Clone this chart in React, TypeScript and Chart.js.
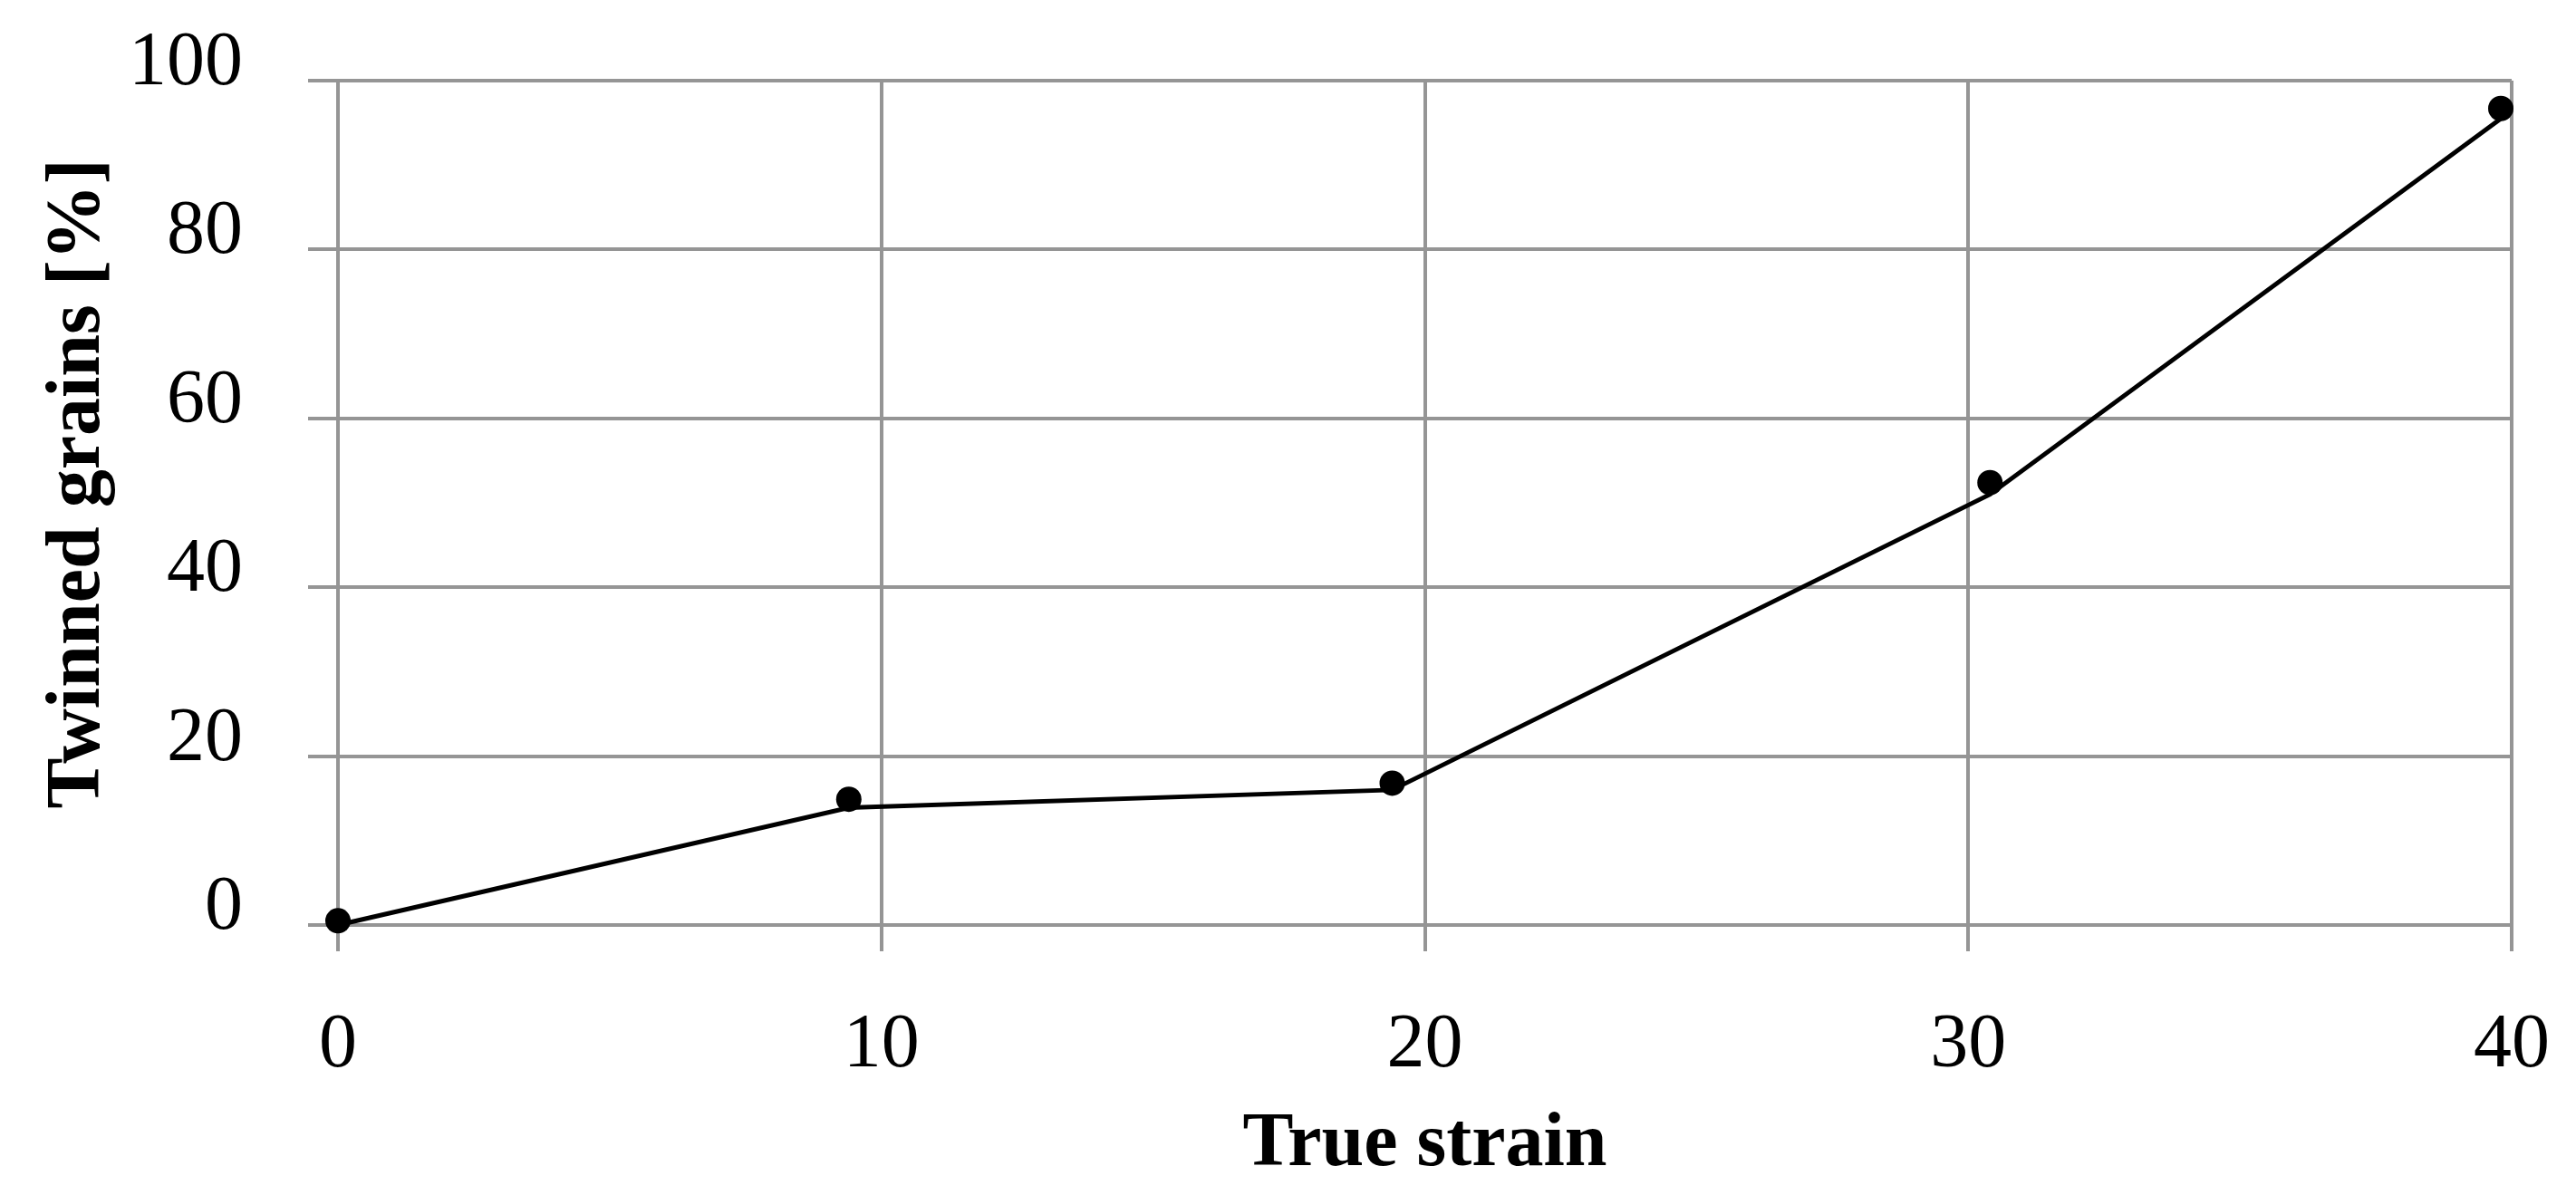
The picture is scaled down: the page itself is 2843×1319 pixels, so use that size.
import React, { useEffect, useRef } from "react";
import { Chart, registerables } from "chart.js";

Chart.register(...registerables);

// ---- data ----
const xTicks = [0, 10, 20, 30, 40];
const yTicks = [0, 20, 40, 60, 80, 100];

// connecting line (drawn slightly below the markers in the reference)
const lineStrain = [0, 9.4, 19.4, 30.4, 39.8];
const lineTwinned = [0, 13.9, 16.0, 51.0, 95.5];

// measured points (markers)
const markerStrain = [0, 9.4, 19.4, 30.4, 39.8];
const markerTwinned = [0.5, 14.9, 16.8, 52.4, 96.7];

const xTitle = "True strain";
const yTitle = "\u2002Twinned grains [%]";

const W = 2843;
const H = 1319;
const GRID = "#959595";
const FONT = "'Liberation Serif', 'Times New Roman', serif";

export default function App() {
  const ref = useRef<HTMLCanvasElement | null>(null);

  useEffect(() => {
    if (!ref.current) return;
    const chart = new Chart(ref.current, {
      type: "scatter",
      data: {
        datasets: [
          {
            label: "line",
            data: lineStrain.map((x, i) => ({ x, y: lineTwinned[i] })),
            showLine: true,
            borderColor: "#000",
            backgroundColor: "#000",
            borderWidth: 5,
            pointRadius: 0,
            tension: 0,
            clip: false as any,
          },
          {
            label: "points",
            data: markerStrain.map((x, i) => ({ x, y: markerTwinned[i] })),
            showLine: false,
            borderColor: "#000",
            backgroundColor: "#000",
            pointRadius: 14,
            pointBorderWidth: 0,
            clip: false as any,
          },
        ],
      },
      options: {
        responsive: false,
        animation: false,
        layout: { padding: { top: 89, right: 71, left: 0, bottom: 0 } },
        plugins: { legend: { display: false }, tooltip: { enabled: false } },
        scales: {
          x: {
            type: "linear",
            min: 0,
            max: 40,
            afterBuildTicks: (s: any) => {
              s.ticks = xTicks.map((v) => ({ value: v }));
            },
            afterFit: (s: any) => {
              s.height = H - 1021;
              s.paddingLeft = 0;
              s.paddingRight = 0;
            },
            grid: { color: GRID, lineWidth: 4, tickLength: 29, drawTicks: true },
            border: { color: GRID, width: 4 },
            ticks: {
              color: "#000",
              font: { family: FONT, size: 84 },
              padding: 55,
              maxRotation: 0,
              autoSkip: false,
            },
            title: {
              display: true,
              text: xTitle,
              color: "#000",
              font: { family: FONT, size: 84, weight: "bold" },
              padding: { top: 0, bottom: 4 },
            },
          },
          y: {
            type: "linear",
            min: 0,
            max: 100,
            afterBuildTicks: (s: any) => {
              s.ticks = yTicks.map((v) => ({ value: v }));
            },
            afterFit: (s: any) => {
              s.width = 373;
              s.paddingTop = 0;
              s.paddingBottom = 0;
            },
            grid: { color: GRID, lineWidth: 4, tickLength: 33, drawTicks: true },
            border: { color: GRID, width: 4 },
            ticks: {
              color: "#000",
              font: { family: FONT, size: 84 },
              padding: 72,
              labelOffset: -18,
              autoSkip: false,
            },
            title: {
              display: true,
              text: yTitle,
              color: "#000",
              font: { family: FONT, size: 84, weight: "bold" },
              padding: { top: 37, bottom: 0 },
            },
          },
        },
      },
    });
    return () => chart.destroy();
  }, []);

  return (
    <div style={{ position: "absolute", left: 0, top: 0, width: W, height: H, background: "#fff" }}>
      <canvas ref={ref} width={W} height={H} style={{ display: "block", width: W, height: H }} />
    </div>
  );
}
